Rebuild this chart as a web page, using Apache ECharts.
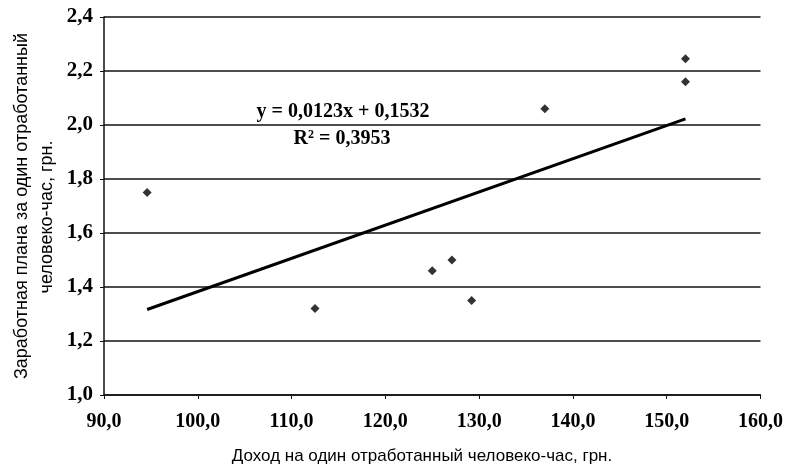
<!DOCTYPE html>
<html><head><meta charset="utf-8">
<script src="https://cdn.jsdelivr.net/npm/echarts@6/dist/echarts.min.js"></script>
<style>html,body{margin:0;padding:0;background:#fff}#c{width:786px;height:470px}</style>
</head><body><div id="c"></div>
<script>
const incomeX = [94.6, 112.5, 125.0, 127.1, 129.2, 137.0, 152.0, 152.0];
const wageY   = [1.75, 1.32, 1.46, 1.50, 1.35, 2.06, 2.245, 2.16];
const trendSlope = 0.0123, trendIntercept = 0.1532, rSquared = '0,3953';
const xTitle = 'Доход на один отработанный человеко-час, грн.';
const yTitle1 = 'Заработная плана за один отработанный';
const yTitle2 = 'человеко-час, грн.';

const pts = incomeX.map((x, i) => [x, wageY[i]]);
const xmin = Math.min(...incomeX), xmax = Math.max(...incomeX);
const trend = [[xmin, trendSlope * xmin + trendIntercept], [xmax, trendSlope * xmax + trendIntercept]];
const fmt = v => v.toFixed(1).replace('.', ',');
const serif = '"Liberation Serif","Times New Roman",serif';
const sans = '"Liberation Sans",Arial,sans-serif';

const chart = echarts.init(document.getElementById('c'), null, {renderer: 'canvas'});
chart.setOption({
  backgroundColor: '#fff',
  animation: false,
  grid: {left: 104, right: 23, top: 17, bottom: 75},
  xAxis: {
    type: 'value', min: 90, max: 160, interval: 10,
    axisLine: {show: true, lineStyle: {color: '#111', width: 1.5}},
    axisTick: {show: true, length: 4, lineStyle: {color: '#111'}},
    splitLine: {show: false},
    axisLabel: {formatter: fmt, color: '#000', fontFamily: serif, fontWeight: 'bold', fontSize: 20, margin: 17}
  },
  yAxis: {
    type: 'value', min: 1.0, max: 2.4, interval: 0.2,
    axisLine: {show: true, lineStyle: {color: '#111', width: 1.5}},
    axisTick: {show: true, length: 4, lineStyle: {color: '#111'}},
    splitLine: {show: true, lineStyle: {color: '#111', width: 1.6}},
    axisLabel: {formatter: fmt, color: '#000', fontFamily: serif, fontWeight: 'bold', fontSize: 21, margin: 11}
  },
  series: [
    {type: 'line', data: trend, symbol: 'none', lineStyle: {color: '#000', width: 3}, z: 3},
    {type: 'scatter', data: pts, symbol: 'diamond', symbolSize: 9, itemStyle: {color: '#000'}, z: 4}
  ],
  graphic: [
    {type: 'text', x: 343, y: 112, style: {text: 'y = 0,0123x + 0,1532', font: 'bold 20px ' + serif, fill: '#000', textAlign: 'center', textVerticalAlign: 'middle'}},
    {type: 'text', x: 342, y: 139, style: {text: '{a|R}{s|2}{a| = ' + rSquared + '}', rich: {a: {font: 'bold 20px ' + serif, fill: '#000'}, s: {font: 'bold 12px ' + serif, fill: '#000', verticalAlign: 'top', padding: [0,0,8,0]}}, textAlign: 'center', textVerticalAlign: 'middle'}},
    {type: 'text', x: 422, y: 456, style: {text: xTitle, font: '17px ' + sans, fill: '#000', textAlign: 'center', textVerticalAlign: 'middle'}},
    {type: 'text', x: 22, y: 206, rotation: Math.PI / 2, style: {text: yTitle1, font: '18px ' + sans, fill: '#000', textAlign: 'center', textVerticalAlign: 'middle'}},
    {type: 'text', x: 47, y: 217, rotation: Math.PI / 2, style: {text: yTitle2, font: '18px ' + sans, fill: '#000', textAlign: 'center', textVerticalAlign: 'middle'}}
  ]
});
</script></body></html>
